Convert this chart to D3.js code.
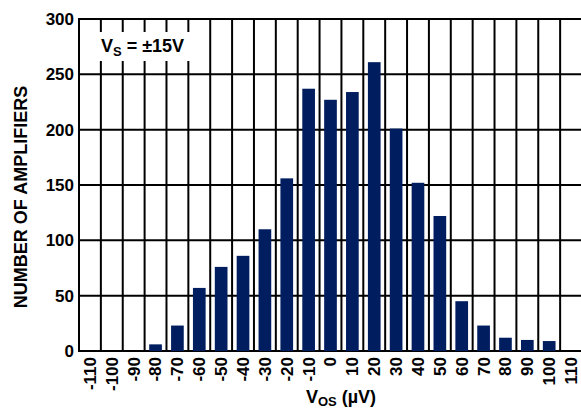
<!DOCTYPE html>
<html>
<head>
<meta charset="utf-8">
<script src="https://cdn.jsdelivr.net/npm/d3@7"></script>
<style>
  body { margin: 0; background: #fff; }
  svg { display: block; font-family: "Liberation Sans", Arial, sans-serif; font-weight: bold; }
</style>
</head>
<body>
<div id="chart"></div>
<script>
// offset voltage bins (uV) and amplifier counts
const bins = [-110, -100, -90, -80, -70, -60, -50, -40, -30, -20, -10, 0, 10, 20, 30, 40, 50, 60, 70, 80, 90, 100, 110];
const counts = [0, 0, 0, 6, 23, 57, 76, 86, 110, 156, 237, 227, 234, 261, 201, 152, 122, 45, 23, 12, 10, 9, 0];
const yTicks = [0, 50, 100, 150, 200, 250, 300];

const w = 581;
const h = 408;
const plotL = 79;
const plotR = 582;
const plotT = 19;
const plotB = 351;
const navy = '#001e5f';

const svg = d3.select('#chart')
  .append('svg')
  .attr('width', w)
  .attr('height', h);

const xGrid = d3.scaleBand()
  .domain(bins)
  .range([plotL, plotR]);

const xBar = d3.scaleBand()
  .domain(bins)
  .range([plotL, plotR])
  .paddingInner(0.42)
  .paddingOuter(0.21);

const yScale = d3.scaleLinear()
  .domain([0, 300])
  .range([plotB, plotT]);

// horizontal grid
svg.append('g')
  .selectAll('line')
  .data(yTicks)
  .enter()
  .append('line')
  .attr('x1', plotL)
  .attr('x2', plotR)
  .attr('y1', d => yScale(d))
  .attr('y2', d => yScale(d))
  .attr('stroke', '#000')
  .attr('stroke-width', 2);

// vertical grid at bin edges
const edges = bins.map(d => xGrid(d)).concat([plotR]);
svg.append('g')
  .selectAll('line')
  .data(edges)
  .enter()
  .append('line')
  .attr('x1', d => d)
  .attr('x2', d => d)
  .attr('y1', plotT - 1)
  .attr('y2', plotB + 1)
  .attr('stroke', '#000')
  .attr('stroke-width', 2);

// label box over the grid
svg.append('rect')
  .attr('x', 95)
  .attr('y', 32)
  .attr('width', 99)
  .attr('height', 29)
  .attr('fill', '#fff');

const vs = svg.append('text')
  .attr('x', 101)
  .attr('y', 52)
  .attr('font-size', 18);
vs.append('tspan').text('V');
vs.append('tspan').attr('font-size', 13).attr('dy', 4).text('S');
vs.append('tspan').attr('dy', -4).text(' = ±15V');

// bars
svg.append('g')
  .selectAll('rect')
  .data(bins)
  .enter()
  .append('rect')
  .attr('x', d => xBar(d))
  .attr('width', xBar.bandwidth())
  .attr('y', (d, i) => yScale(counts[i]))
  .attr('height', (d, i) => plotB - yScale(counts[i]))
  .attr('fill', navy);

// y axis labels
const yAxis = d3.axisLeft(yScale).tickValues(yTicks).tickSize(0).tickPadding(5);
const yg = svg.append('g')
  .attr('transform', `translate(${plotL}, 0)`)
  .call(yAxis);
yg.select('.domain').remove();
yg.selectAll('text')
  .attr('font-size', 17)
  .attr('font-family', '"Liberation Sans", Arial, sans-serif')
  .attr('font-weight', 'bold')
  .attr('fill', '#000');

// x axis labels, rotated
const xAxis = d3.axisBottom(xGrid).tickSize(0);
const xg = svg.append('g')
  .attr('transform', `translate(0, ${plotB})`)
  .call(xAxis);
xg.select('.domain').remove();
xg.selectAll('text')
  .attr('font-size', 17)
  .attr('font-family', '"Liberation Sans", Arial, sans-serif')
  .attr('font-weight', 'bold')
  .attr('fill', '#000')
  .attr('text-anchor', 'end')
  .attr('transform', 'rotate(-90)')
  .attr('x', -6)
  .attr('y', 0)
  .attr('dy', '0.35em');

// axis titles
svg.append('text')
  .attr('transform', 'translate(27, 197) rotate(-90)')
  .attr('text-anchor', 'middle')
  .attr('font-size', 18)
  .text('NUMBER OF AMPLIFIERS');

const xt = svg.append('text')
  .attr('x', 341)
  .attr('y', 403)
  .attr('text-anchor', 'middle')
  .attr('font-size', 18);
xt.append('tspan').text('V');
xt.append('tspan').attr('font-size', 13).attr('dy', 3).text('OS');
xt.append('tspan').attr('dy', -3).text(' (µV)');
</script>
</body>
</html>
